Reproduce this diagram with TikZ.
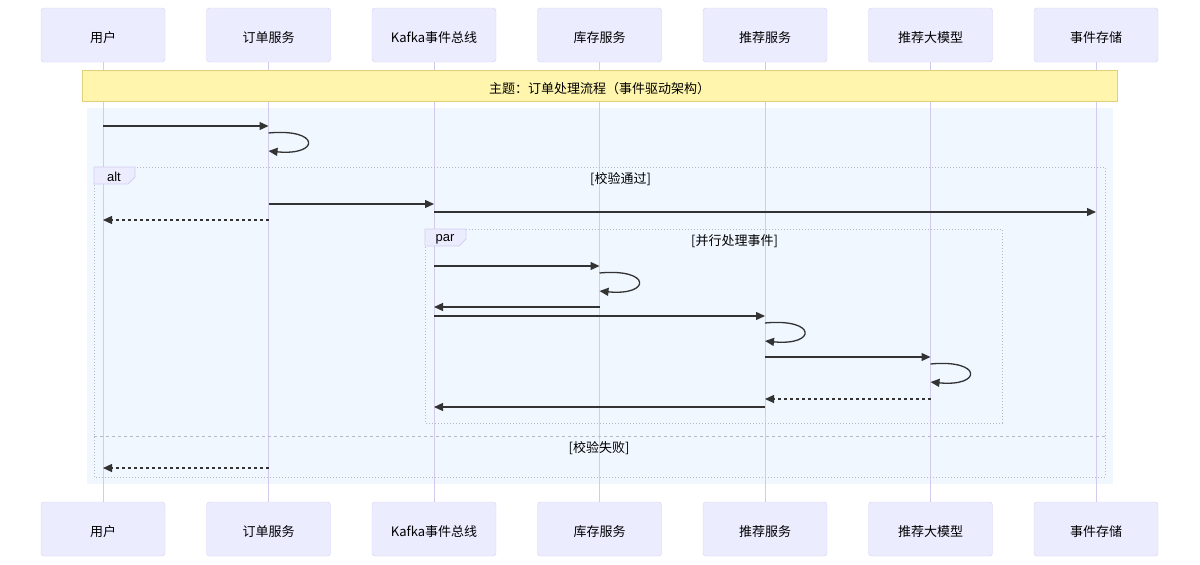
\documentclass[tikz,border=0pt]{standalone}
\usepackage{fontspec}
\setmainfont{Liberation Sans}
\newfontfamily\cjkfont{Noto Sans CJK SC}
\usetikzlibrary{arrows.meta,positioning,calc}

\definecolor{actorfill}{HTML}{ECECFF}
\definecolor{actorline}{HTML}{D5CEF2}
\definecolor{lifecol}{HTML}{D2CBEF}
\definecolor{notefill}{HTML}{FFF5AD}
\definecolor{noteline}{HTML}{E0CF78}
\definecolor{blockfill}{HTML}{F0F7FF}
\definecolor{fragcol}{HTML}{B8B8C8}
\definecolor{msgcol}{HTML}{333333}

% one participant: head box, foot box (lifeline drawn later)
\newcommand{\actorpair}[3]{%
  % #1 name  #2 x  #3 label
  \node[actorbox] (#1T) at (#2,35) {#3};
  \node[actorbox] (#1B) at (#2,529) {#3};
}
% message between two lifelines at height #4
\newcommand{\msg}[4][]{%
  \draw[msgline,#1] (#2T |- 0,#4) -- (#3T |- 0,#4);
}
% message to self, starting at height #2
\newcommand{\selfmsg}[2]{%
  \draw[msgline] (#1T |- 0,#2) .. controls +(52,-5) and +(52,5) .. ($(#1T |- 0,#2)+(0,18)$);
}

\begin{document}
\begin{tikzpicture}[
  x=1pt, y=-1pt,
  font=\fontsize{13pt}{15pt}\selectfont,
  actorbox/.style={draw=actorline, fill=actorfill, rounded corners=3pt,
    minimum width=124pt, minimum height=54pt, inner sep=0pt,
    text height=15pt, text depth=0pt, font=\fontsize{13pt}{15pt}\selectfont\cjkfont},
  lifeline/.style={draw=lifecol, line width=1pt},
  notebox/.style={draw=noteline, fill=notefill, minimum width=1035pt, minimum height=31pt,
    inner sep=0pt, text height=15pt, text depth=0pt, font=\fontsize{13pt}{15pt}\selectfont\cjkfont},
  fragline/.style={draw=fragcol, line width=0.8pt, dash pattern=on 1pt off 2pt},
  elseline/.style={draw=fragcol, line width=0.8pt, dash pattern=on 3pt off 3pt},
  fragtab/.style={draw=actorline, fill=actorfill, line width=0.8pt},
  guard/.style={font=\fontsize{13pt}{15pt}\selectfont\cjkfont, inner sep=0pt},
  msgline/.style={draw=msgcol, line width=1.3pt, -{Triangle[length=9pt,width=8pt]}},
  reply/.style={dash pattern=on 3pt off 3pt}
]

\useasboundingbox (0,0) rectangle (1200,565);

% participants
\actorpair{user}{103}{用户}
\actorpair{order}{268.5}{订单服务}
\actorpair{bus}{434}{Kafka事件总线}
\actorpair{stock}{599.5}{库存服务}
\actorpair{rec}{765}{推荐服务}
\actorpair{llm}{930.5}{推荐大模型}
\actorpair{store}{1096}{事件存储}

% rect block behind everything
\fill[blockfill] (87,108) rectangle (1113,484);

% lifelines
\foreach \a in {user,order,bus,stock,rec,llm,store}
  \draw[lifeline] (\a T.south) -- (\a B.north);

% note over all participants
\node[notebox] (topic) at (599.5,85.5) {主题：订单处理流程（事件驱动架构）};

% alt frame
\draw[fragline] (94,167) rectangle (1105,477);
\draw[fragtab] (94,167) -- (135,167) -- (135,177) -- (128,184) -- (94,184) -- cycle;
\node[inner sep=0pt] (altlab) at (114,177) {alt};
\node[guard] (okguard) at (620.5,179) {[校验通过]};
\draw[elseline] (94,436) -- (1105,436);
\node[guard] (failguard) at (599,448) {[校验失败]};

% par frame
\draw[fragline] (425,229) rectangle (1002,423);
\draw[fragtab] (425,229) -- (466,229) -- (466,239) -- (459,246) -- (425,246) -- cycle;
\node[inner sep=0pt] (parlab) at (445,239) {par};
\node[guard] (parguard) at (734.5,241) {[并行处理事件]};

% messages
\msg{user}{order}{126}
\selfmsg{order}{133}
\msg{order}{bus}{204}
\msg{bus}{store}{212}
\msg[reply]{order}{user}{220}
\msg{bus}{stock}{266}
\selfmsg{stock}{273}
\msg{stock}{bus}{307}
\msg{bus}{rec}{316}
\selfmsg{rec}{323}
\msg{rec}{llm}{357}
\selfmsg{llm}{364}
\msg[reply]{llm}{rec}{399}
\msg{rec}{bus}{407}
\msg[reply]{order}{user}{468}

\end{tikzpicture}
\end{document}
